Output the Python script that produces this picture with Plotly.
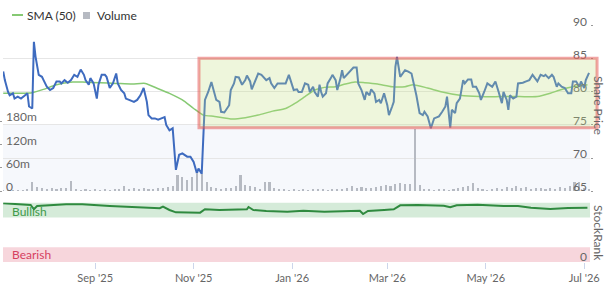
import plotly.graph_objects as go
import pandas as pd

# ---------------- data ----------------
base_date = pd.Timestamp("2025-07-04")

price_days = [2,3,5,6,8,9,11,13,15,17,
              18,20,21,22,24,26,27,29,31,33,
              35,37,38,40,42,44,46,48,50,52,
              53,55,56,58,60,61,63,65,66,68,
              70,72,73,75,77,78,80,83,85,87,
              89,91,92,94,96,98,100,102,103,105,
              107,109,111,113,116,118,120,122,123,125,
              127,129,131,133,134,136,137,139,140,142,
              143,145,146,148,150,152,153,155,156,158,
              160,162,165,167,168,170,172,175,177,179,
              180,182,184,185,187,189,191,192,194,195,
              197,198,199,200,202,203,205,206,208,209,
              211,212,213,215,217,219,221,222,224,226,
              227,229,230,232,233,235,236,238,240,241,
              243,244,245,246,248,249,251,253,255,258,
              260,262,263,265,267,269,272,274,276,277,
              279,280,282,283,285,287,288,290,292,293,
              295,297,298,300,302,305,307,309,311,312,
              314,315,316,318,320,321,324,326,328,330,
              331,333,335,337,338,340,342,343,345,346,
              348,350,352,354,355,357,359,360,362,363,
              365]
price_vals = [83.1,81.8,80.0,79.5,79.8,79.0,79.3,79.0,79.4,79.8,
              77.8,77.5,87.6,85.4,82.6,82.3,81.8,80.8,80.3,80.6,
              81.6,81.6,81.3,81.8,81.4,81.8,82.6,82.3,83.4,82.6,
              81.8,81.1,82.1,81.3,79.0,81.1,82.6,82.6,82.3,80.6,
              81.3,82.8,81.3,80.3,79.8,79.0,78.8,78.5,78.8,79.5,
              80.6,78.5,76.5,76.0,76.0,75.8,76.0,76.2,75.0,74.2,
              74.5,68.2,70.5,70.7,70.2,70.2,69.4,67.7,68.4,67.6,
              78.8,80.0,81.5,79.5,78.8,78.5,77.0,76.9,77.3,78.0,
              80.3,81.3,82.3,82.2,81.1,81.8,82.5,81.6,80.4,81.6,
              82.8,82.6,81.8,82.1,81.3,80.6,81.3,81.3,81.3,82.6,
              81.8,80.3,80.4,80.0,80.0,81.3,81.1,80.0,80.8,80.0,
              79.3,81.1,80.0,79.3,79.8,81.3,82.1,82.6,81.8,80.3,
              82.1,83.3,82.1,82.6,83.1,83.7,83.7,81.3,80.3,78.8,
              80.0,79.5,80.4,79.8,78.5,78.8,78.3,79.8,78.0,76.5,
              77.8,78.5,83.8,85.3,82.3,82.6,83.3,83.1,82.8,79.5,
              76.8,76.5,77.0,76.3,74.5,76.0,76.3,77.0,77.8,79.3,
              74.6,77.3,76.8,78.3,79.0,81.8,81.3,81.9,81.9,80.8,
              80.8,79.8,78.8,80.0,81.3,80.8,81.6,80.0,78.3,80.0,
              78.8,77.3,79.5,79.0,79.3,81.3,81.4,81.6,81.8,82.6,
              82.3,81.6,82.6,82.4,82.6,82.1,82.6,82.3,80.8,81.3,
              80.8,80.6,79.8,79.8,81.6,81.6,80.8,81.6,80.6,81.8,
              82.9]

sma_days = [2,12,20,27,35,45,51,62,72,82,
            90,97,105,113,120,126,133,144,152,160,
            169,177,183,189,195,201,208,214,220,226,
            234,243,251,256,265,274,285,297,310,322,
            333,341,347,355,364]
sma_vals = [79.8,79.8,79.9,80.4,81.1,81.5,81.5,81.4,81.3,81.2,
            81.3,80.6,79.8,78.8,77.5,76.5,76.3,75.9,76.1,76.5,
            77.1,77.5,78.3,79.3,80.3,80.7,80.8,81.2,81.5,81.4,
            81.2,80.8,80.8,81.1,80.6,80.0,79.5,79.3,79.3,79.3,
            79.3,79.8,80.3,80.8,81.1]

vol_days = list(range(2, 366, 3))
vol_millions = [3,2,3,2,3,4,22,11,9,6,
                8,5,7,9,26,4,3,5,2,4,
                3,5,3,6,4,13,5,7,4,8,
                6,5,9,7,10,12,41,37,28,35,
                47,45,24,10,8,6,9,7,12,41,
                15,14,10,6,24,22,8,5,4,3,
                5,3,4,3,5,4,6,3,5,4,
                6,9,12,8,10,7,9,11,14,16,
                12,18,20,17,19,160,15,6,4,3,
                5,4,3,6,8,10,14,21,7,4,
                3,5,9,6,11,8,13,7,10,6,
                9,7,5,8,6,10,7,14,22,24,
                9,6]

rank_days = [2,19,21,23,41,51,68,82,99,101,
             105,109,124,127,136,153,154,157,165,178,
             188,201,213,223,225,228,238,244,248,259,
             275,279,283,296,312,321,329,341,352,364]
rank_vals = [98.7,95.8,88.6,94.1,97.0,97.0,94.1,91.9,90.3,92.9,
             87.4,83.5,82.9,88.6,87.4,88.6,92.4,87.4,85.7,84.5,
             86.2,84.5,85.7,86.2,80.7,85.7,87.4,88.6,95.3,95.8,
             94.6,91.9,95.3,96.3,94.1,94.1,91.3,89.1,90.8,91.3]

x_tick_dates = ["2025-09-01", "2025-11-01", "2026-01-01", "2026-03-01", "2026-05-01", "2026-07-01"]
x_tick_text = ["Sep '25", "Nov '25", "Jan '26", "Mar '26", "May '26", "Jul '26"]
price_ticks = [65, 70, 75, 80, 85, 90]
vol_ticks = [0, 60e6, 120e6, 180e6]
vol_tick_text = ["0", "60m", "120m", "180m"]

# highlighted region (start day, price low, price high)
box_start_day = 123.3
box_price_low, box_price_high = 74.6, 85.1

# ---------------- helpers ----------------
def to_dates(days):
    return [base_date + pd.Timedelta(days=d) for d in days]

X_START, X_END = 1.86, 365.6
PRICE_RANGE = [65, 90]
PRICE_DOM = [0.271, 0.9008]
RANK_DOM = [0.0, 0.2271]

def price_to_paper(p):
    return PRICE_DOM[0] + (p - PRICE_RANGE[0]) / (PRICE_RANGE[1] - PRICE_RANGE[0]) * (PRICE_DOM[1] - PRICE_DOM[0])

def day_to_paper(d):
    return (d - X_START) / (X_END - X_START)

FONT = "Lato, 'Open Sans', sans-serif"
GREY = "#666666"

fig = go.Figure()

fig.add_trace(go.Bar(
    x=to_dates(vol_days), y=[v * 1e6 for v in vol_millions], yaxis="y2",
    marker=dict(color="#b6bac2", line=dict(width=0)),
    width=1.3 * 86400000, showlegend=False, hoverinfo="skip"))

fig.add_trace(go.Scatter(
    x=to_dates(sma_days), y=sma_vals, yaxis="y", mode="lines",
    line=dict(color="#86c973", width=1.5, shape="spline", smoothing=0.6),
    showlegend=False))

fig.add_trace(go.Scatter(
    x=to_dates(price_days), y=price_vals, yaxis="y", mode="lines",
    line=dict(color="#3e6bbf", width=2), showlegend=False))

fig.add_trace(go.Scatter(
    x=to_dates(rank_days), y=rank_vals, xaxis="x", yaxis="y3", mode="lines",
    line=dict(color="#2f8a3f", width=2), showlegend=False))

shapes = [
    dict(type="rect", xref="paper", yref="y", x0=0, x1=1, y0=65, y1=75,
         fillcolor="#f6f8fc", line=dict(width=0), layer="below"),
    dict(type="rect", xref="paper", yref="y3", x0=0, x1=1, y0=75, y1=100,
         fillcolor="#d5ebd9", line=dict(width=0), layer="below"),
    dict(type="rect", xref="paper", yref="y3", x0=0, x1=1, y0=0, y1=25,
         fillcolor="#f7d6dc", line=dict(width=0), layer="below"),
    dict(type="rect", xref="paper", yref="paper",
         x0=day_to_paper(box_start_day), x1=1.012,
         y0=price_to_paper(box_price_low), y1=price_to_paper(box_price_high),
         fillcolor="rgba(194,223,130,0.28)",
         line=dict(color="rgba(229,75,75,0.5)", width=3), layer="above"),
    dict(type="line", xref="paper", yref="paper",
         x0=(12 - 3) / 587, x1=(23 - 3) / 587, y0=(262 - 15) / 262, y1=(262 - 15) / 262,
         line=dict(color="#86c973", width=2)),
    dict(type="rect", xref="paper", yref="paper",
         x0=(83 - 3) / 587, x1=(90 - 3) / 587, y0=(262 - 19) / 262, y1=(262 - 12) / 262,
         fillcolor="#b6bac2", line=dict(width=0)),
]

annotations = [
    dict(text="SMA (50)", xref="paper", yref="paper", x=(25 - 3) / 587, y=(262 - 15) / 262,
         xanchor="left", yanchor="middle", showarrow=False, font=dict(size=12, color="#333333", family=FONT)),
    dict(text="Volume", xref="paper", yref="paper", x=(95 - 3) / 587, y=(262 - 15) / 262,
         xanchor="left", yanchor="middle", showarrow=False, font=dict(size=12, color="#333333", family=FONT)),
    dict(text="Share Price", xref="paper", yref="paper", x=(599 - 3) / 587, y=(262 - 106) / 262,
         xanchor="center", yanchor="middle", textangle=90, showarrow=False,
         font=dict(size=12, color=GREY, family=FONT)),
    dict(text="StockRank", xref="paper", yref="paper", x=(599 - 3) / 587, y=(262 - 233) / 262,
         xanchor="center", yanchor="middle", textangle=90, showarrow=False,
         font=dict(size=12, color=GREY, family=FONT)),
    dict(text="Bullish", xref="paper", yref="y3", x=(10 - 3) / 587, y=75,
         xanchor="left", yanchor="bottom", yshift=-4, showarrow=False,
         font=dict(size=12, color="#3f9a4a", family=FONT)),
    dict(text="Bearish", xref="paper", yref="y3", x=(10 - 3) / 587, y=0,
         xanchor="left", yanchor="bottom", yshift=-2, showarrow=False,
         font=dict(size=12, color="#d6405f", family=FONT)),
]

fig.update_layout(
    width=608, height=288,
    margin=dict(l=3, r=18, t=0, b=26, pad=0, autoexpand=False),
    paper_bgcolor="white", plot_bgcolor="rgba(0,0,0,0)",
    font=dict(family=FONT, color=GREY, size=12),
    showlegend=False, bargap=0,
    xaxis=dict(
        type="date", domain=[0, 1], anchor="y3", automargin=False,
        range=[base_date + pd.Timedelta(days=X_START), base_date + pd.Timedelta(days=X_END)],
        tickvals=x_tick_dates, ticktext=x_tick_text,
        ticks="outside", ticklen=6, tickcolor="#ccd6eb", ticklabelstandoff=0,
        showgrid=False, showline=False, zeroline=False,
        tickfont=dict(size=11, color=GREY, family=FONT)),
    yaxis=dict(
        domain=PRICE_DOM, range=PRICE_RANGE, side="right", anchor="x", automargin=False,
        tickvals=price_ticks, ticklabelposition="inside top", ticklabeloverflow="allow",
        ticklabelshift=5,
        ticks="outside", ticklen=2, tickcolor="#999999",
        gridcolor="#e6e6e6", gridwidth=1, zeroline=False, showline=False,
        tickfont=dict(size=12, color=GREY, family=FONT)),
    yaxis2=dict(
        overlaying="y", side="left", anchor="x", range=[0, 425e6], automargin=False,
        tickvals=vol_ticks, ticktext=vol_tick_text,
        ticklabelposition="inside top", ticklabeloverflow="allow",
        ticklabelshift=5,
        ticks="outside", ticklen=2, tickcolor="#999999",
        showgrid=False, zeroline=False, showline=False,
        tickfont=dict(size=12, color=GREY, family=FONT)),
    yaxis3=dict(
        domain=RANK_DOM, range=[0, 100], side="right", anchor="x", automargin=False,
        tickvals=[0], ticklabelposition="inside top", ticklabeloverflow="allow",
        ticklabelshift=3,
        showgrid=False, zeroline=False, showline=False,
        tickfont=dict(size=12, color=GREY, family=FONT)),
    shapes=shapes, annotations=annotations,
)

fig.write_html("out.html")
